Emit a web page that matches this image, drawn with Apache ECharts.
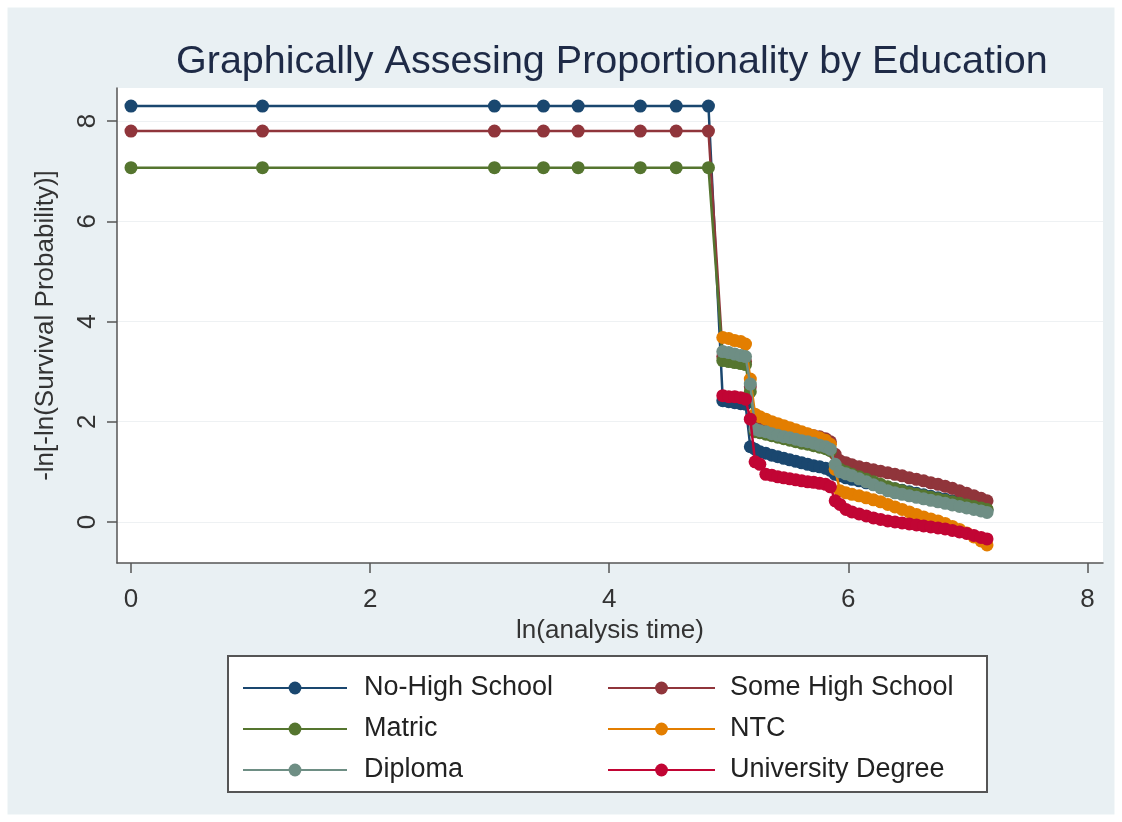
<!DOCTYPE html>
<html>
<head>
<meta charset="utf-8">
<script src="https://cdn.jsdelivr.net/npm/echarts@6/dist/echarts.min.js"></script>
<style>html,body{margin:0;padding:0;background:#fff}#c{width:1122px;height:822px}</style>
</head>
<body>
<div id="c"></div>
<script>
// ---- data ----
const seriesNames = ['No-High School', 'Some High School', 'Matric', 'NTC', 'Diploma', 'University Degree'];
const tickValues = [0, 2, 4, 6, 8];

const headX = [0, 1.1, 3.04, 3.45, 3.74, 4.26, 4.56, 4.83];
const noHighHeadY = [8.3, 8.3, 8.3, 8.3, 8.3, 8.3, 8.3, 8.3];
const someHighHeadY = [7.8, 7.8, 7.8, 7.8, 7.8, 7.8, 7.8, 7.8];
const matricHeadY = [7.07, 7.07, 7.07, 7.07, 7.07, 7.07, 7.07, 7.07];

const tailX = [4.95,5.00,5.05,5.10,5.14, 5.18,5.22,5.26,5.31,5.36, 5.41,5.46,5.51,5.56,5.61, 5.66,5.71,5.76,5.81,5.85,
  5.89,5.93,5.98,6.03,6.09, 6.15,6.21,6.27,6.33,6.39, 6.45,6.51,6.57,6.63,6.69, 6.75,6.81,6.87,6.93,6.99, 7.05,7.11,7.16];

const noHighTailY = [2.42,2.40,2.38,2.36,2.35, 1.50,1.45,1.40,1.37,1.33, 1.30,1.27,1.24,1.21,1.18, 1.15,1.12,1.10,1.07,1.03,
  0.95,0.92,0.88,0.85,0.82, 0.78,0.75,0.72,0.69,0.66, 0.63,0.60,0.57,0.54,0.51, 0.48,0.45,0.42,0.38,0.35, 0.31,0.27,0.24];
const someHighTailY = [3.30,3.28,3.25,3.22,3.20, 2.70,2.05,2.02,1.98,1.95, 1.92,1.88,1.85,1.82,1.78, 1.75,1.72,1.70,1.66,1.60,
  1.35,1.22,1.18,1.14,1.10, 1.07,1.04,1.01,0.98,0.95, 0.92,0.88,0.85,0.82,0.78, 0.75,0.71,0.67,0.62,0.57, 0.52,0.47,0.42];
const matricTailY = [3.22,3.20,3.18,3.16,3.14, 2.60,1.80,1.78,1.75,1.72, 1.69,1.66,1.63,1.60,1.57, 1.55,1.52,1.49,1.46,1.42,
  1.12,1.05,1.00,0.95,0.90, 0.85,0.80,0.75,0.70,0.66, 0.62,0.58,0.55,0.52,0.49, 0.46,0.43,0.40,0.37,0.34, 0.31,0.28,0.25];
const ntcTailY = [3.68,3.66,3.62,3.60,3.55, 2.85,2.15,2.10,2.05,2.00, 1.96,1.92,1.88,1.84,1.80, 1.76,1.72,1.68,1.63,1.55,
  1.05,0.62,0.58,0.55,0.52, 0.48,0.44,0.40,0.35,0.30, 0.25,0.20,0.15,0.10,0.06, 0.02,-0.03,-0.09,-0.15,-0.22, -0.30,-0.38,-0.46];
const diplomaTailY = [3.40,3.38,3.35,3.32,3.30, 2.75,1.85,1.82,1.80,1.76, 1.73,1.70,1.68,1.65,1.62, 1.60,1.57,1.53,1.50,1.45,
  1.15,1.00,0.96,0.92,0.86, 0.80,0.74,0.68,0.62,0.58, 0.55,0.52,0.49,0.46,0.43, 0.40,0.37,0.34,0.31,0.28, 0.25,0.22,0.19];
const univTailY = [2.52,2.50,2.50,2.48,2.45, 2.05,1.20,1.15,0.95,0.93, 0.90,0.88,0.86,0.84,0.82, 0.80,0.79,0.77,0.75,0.70,
  0.42,0.35,0.25,0.20,0.16, 0.12,0.08,0.05,0.02,0.00, -0.02,-0.04,-0.06,-0.08,-0.10, -0.12,-0.14,-0.17,-0.20,-0.23, -0.27,-0.31,-0.34];

const colors = ['#1a476f', '#90353b', '#55752f', '#e37e00', '#6e8e84', '#c10534'];

// ---- build ----
function pts(xs, ys) { return xs.map((x, i) => [x, ys[i]]); }
const seriesData = [
  pts(headX, noHighHeadY).concat(pts(tailX, noHighTailY)),
  pts(headX, someHighHeadY).concat(pts(tailX, someHighTailY)),
  pts(headX, matricHeadY).concat(pts(tailX, matricTailY)),
  pts(tailX, ntcTailY),
  pts(tailX, diplomaTailY),
  pts(tailX, univTailY)
];

const FONT = "'Liberation Sans', Arial, Helvetica, sans-serif";
const chart = echarts.init(document.getElementById('c'), null, {renderer: 'canvas'});
chart.setOption({
  animation: false,
  backgroundColor: '#e9f0f3',
  color: colors,
  title: {
    text: 'Graphically Assesing Proportionality by Education',
    left: 171, top: 37,
    textStyle: {fontFamily: FONT, fontSize: 39.5, fontWeight: 'normal', color: '#1e2a46'}
  },
  graphic: [
    {type: 'rect', z: 100, silent: true, shape: {x: 0, y: 0, width: 1122, height: 822},
      style: {fill: 'none', stroke: '#ffffff', lineWidth: 15}},
    {type: 'rect', z: -1, silent: true, shape: {x: 228, y: 656, width: 759, height: 136},
      style: {fill: '#ffffff', stroke: '#555555', lineWidth: 2}}
  ],
  grid: {left: 117, top: 88, width: 986, height: 475, show: true, backgroundColor: '#ffffff', borderWidth: 0},
  xAxis: {
    type: 'value', min: -0.117, max: 8.13,
    name: 'ln(analysis time)', nameLocation: 'middle', nameGap: 51,
    nameTextStyle: {fontFamily: FONT, fontSize: 26, color: '#333'},
    axisLine: {show: true, onZero: false, lineStyle: {color: '#555', width: 1.5}},
    axisTick: {show: true, length: 10, customValues: tickValues, lineStyle: {color: '#555', width: 1.5}},
    axisLabel: {customValues: tickValues, fontFamily: FONT, fontSize: 26, color: '#333', margin: 24},
    splitLine: {show: false}
  },
  yAxis: {
    type: 'value', min: -0.82, max: 8.66,
    name: '-ln[-ln(Survival Probability)]', nameLocation: 'middle', nameGap: 58,
    nameTextStyle: {fontFamily: FONT, fontSize: 26, color: '#333'},
    axisLine: {show: true, onZero: false, lineStyle: {color: '#555', width: 1.5}},
    axisTick: {show: true, length: 10, customValues: tickValues, lineStyle: {color: '#555', width: 1.5}},
    axisLabel: {customValues: tickValues, rotate: 90, fontFamily: FONT, fontSize: 26, color: '#333', margin: 16},
    splitLine: {show: true, lineStyle: {color: '#eef1f3', width: 1}}
  },
  legend: [
    {data: [seriesNames[0], seriesNames[2], seriesNames[4]], orient: 'vertical', left: 242, top: 673, padding: 0,
      itemWidth: 104, itemHeight: 16, itemGap: 11,
      textStyle: {fontFamily: FONT, fontSize: 27, color: '#222', lineHeight: 30, padding: [0, 0, 0, 12]}},
    {data: [seriesNames[1], seriesNames[3], seriesNames[5]], orient: 'vertical', left: 607, top: 673, padding: 0,
      itemWidth: 107, itemHeight: 16, itemGap: 11,
      textStyle: {fontFamily: FONT, fontSize: 27, color: '#222', lineHeight: 30, padding: [0, 0, 0, 10]}}
  ],
  series: seriesNames.map((n, i) => ({
    name: n, type: 'line', data: seriesData[i],
    symbol: 'circle', symbolSize: 13, showSymbol: true, showAllSymbol: true,
    lineStyle: {width: 2.5, color: colors[i]},
    itemStyle: {color: colors[i]},
    z: 2 + i
  }))
});
</script>
</body>
</html>
